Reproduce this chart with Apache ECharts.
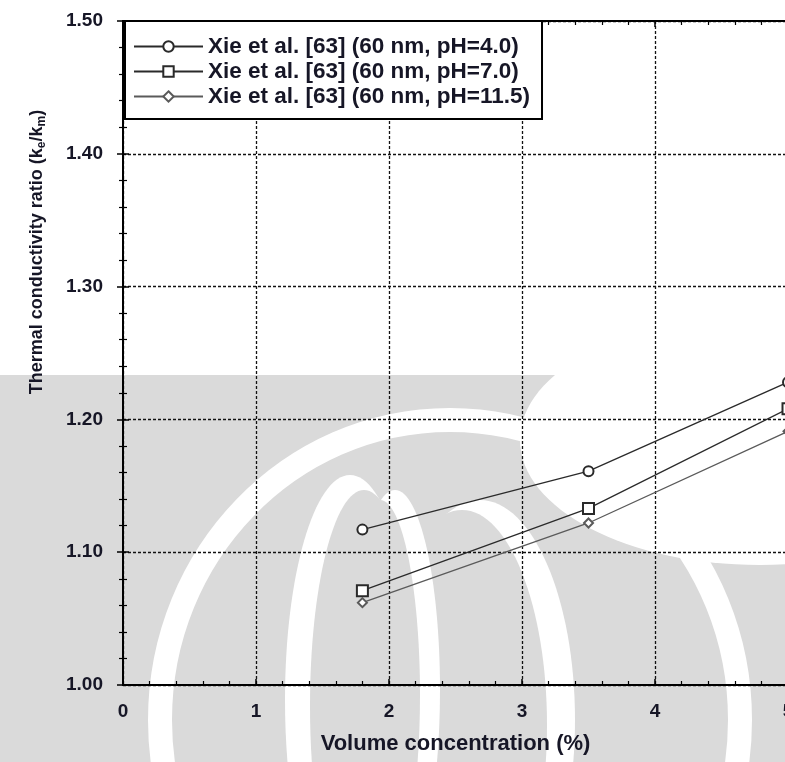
<!DOCTYPE html>
<html>
<head>
<meta charset="utf-8">
<script src="https://cdn.jsdelivr.net/npm/echarts@6/dist/echarts.min.js"></script>
<style>html,body{margin:0;padding:0;background:#fff}#c{width:785px;height:762px}</style>
</head>
<body>
<div id="c"></div>
<script>
// Data
const volumeConc = [1.8, 3.5, 5.0];
const ratioPh40 = [1.117, 1.161, 1.228];
const ratioPh70 = [1.071, 1.133, 1.208];
const ratioPh115 = [1.062, 1.122, 1.191];
const seriesNames = [
  'Xie et al. [63] (60 nm, pH=4.0)',
  'Xie et al. [63] (60 nm, pH=7.0)',
  'Xie et al. [63] (60 nm, pH=11.5)'
];
const xAxisTitle = 'Volume concentration (%)';

const chart = echarts.init(document.getElementById('c'), null, {renderer: 'canvas'});
const FONT = 'Liberation Sans, Arial, sans-serif';
const TXT = '#161626';

function pairs(ys) { return volumeConc.map((x, i) => [x, ys[i]]); }

const seriesDefs = [
  {name: seriesNames[0], data: pairs(ratioPh40), symbol: 'emptyCircle', symbolSize: 10, color: '#2a2a2a'},
  {name: seriesNames[1], data: pairs(ratioPh70), symbol: 'emptyRect', symbolSize: 11, color: '#2a2a2a'},
  {name: seriesNames[2], data: pairs(ratioPh115), symbol: 'emptyDiamond', symbolSize: 9, color: '#5a5a5a'}
];

const gridLine = {show: true, lineStyle: {color: '#111', width: 1.3, type: [3, 2]}};
const frameLine = {show: true, lineStyle: {color: '#000', width: 2}};

// watermark (decorative background logo, rough approximation)
const wm = '#dadada';
function ell(cx, cy, rx, ry, fill) { return {type: 'ellipse', shape: {cx, cy, rx, ry}, style: {fill}}; }
const watermark = [
  {type: 'rect', shape: {x: 0, y: 375, width: 785, height: 387}, style: {fill: wm}},
  ell(760, 440, 240, 125, '#fff'),
  {type: 'ellipse', shape: {cx: 450, cy: 720, rx: 290, ry: 300}, style: {fill: 'none', stroke: '#fff', lineWidth: 24}},
  ell(480, 720, 95, 220, '#fff'), ell(462, 725, 85, 215, wm),
  ell(395, 690, 45, 200, '#fff'), ell(380, 695, 40, 195, wm),
  ell(350, 700, 65, 225, '#fff'), ell(364, 706, 54, 216, wm)
].map(g => Object.assign(g, {z: -100, silent: true}));

const option = {
  backgroundColor: '#fff',
  animation: false,
  textStyle: {fontFamily: FONT},
  graphic: watermark.concat([
    {
      type: 'text', z: 10, x: 37, y: 252, rotation: Math.PI / 2,
      style: {
        text: '{n|Thermal conductivity ratio (k}{s|e}{n|/k}{s|m}{n|)}',
        align: 'center', verticalAlign: 'middle',
        rich: {
          n: {fontFamily: FONT, fontSize: 18, fontWeight: 'bold', fill: TXT},
          s: {fontFamily: FONT, fontSize: 12, fontWeight: 'bold', fill: TXT, verticalAlign: 'bottom', padding: [9, 0, 0, 0]}
        }
      }
    }
  ]),
  grid: {left: 123, top: 21, width: 665, height: 664, containLabel: false, outerBoundsMode: 'none'},
  legend: {
    orient: 'vertical', left: 125, top: 21,
    backgroundColor: '#fff', borderColor: '#000', borderWidth: 2, borderRadius: 0,
    padding: [13, 12, 10, 8],
    itemWidth: 69, itemHeight: 13, itemGap: 0,
    textStyle: {fontFamily: FONT, fontSize: 22.5, lineHeight: 25, fontWeight: 'bold', color: TXT},
    data: seriesNames,
    z: 20
  },
  xAxis: [
    {
      type: 'value', min: 0, max: 5, interval: 1, position: 'bottom',
      axisLine: frameLine,
      axisTick: {show: true, inside: true, length: 6, lineStyle: {color: '#000', width: 1.5}},
      minorTick: {show: true, splitNumber: 5, length: 4, lineStyle: {color: '#000', width: 1.2}},
      splitLine: gridLine,
      axisLabel: {fontFamily: FONT, fontSize: 19, fontWeight: 'bold', color: TXT, margin: 17, showMaxLabel: true},
      name: xAxisTitle, nameLocation: 'middle', nameGap: 48,
      nameTextStyle: {fontFamily: FONT, fontSize: 22, fontWeight: 'bold', color: TXT}
    },
    {
      type: 'value', min: 0, max: 5, interval: 1, position: 'top',
      axisLine: frameLine,
      axisTick: {show: true, inside: true, length: 6, lineStyle: {color: '#000', width: 1.5}},
      minorTick: {show: true, splitNumber: 5, length: 4, lineStyle: {color: '#000', width: 1.2}},
      splitLine: {show: false}, axisLabel: {show: false}
    }
  ],
  yAxis: [
    {
      type: 'value', min: 1.0, max: 1.5, interval: 0.1, position: 'left',
      axisLine: frameLine,
      axisTick: {show: true, inside: true, length: 6, lineStyle: {color: '#000', width: 1.5}},
      minorTick: {show: true, splitNumber: 5, length: 4, lineStyle: {color: '#000', width: 1.2}},
      splitLine: gridLine,
      axisLabel: {fontFamily: FONT, fontSize: 19, fontWeight: 'bold', color: TXT, margin: 20,
        formatter: v => v.toFixed(2)}
    },
    {
      type: 'value', min: 1.0, max: 1.5, interval: 0.1, position: 'right',
      axisLine: frameLine,
      axisTick: {show: true, inside: true, length: 6, lineStyle: {color: '#000', width: 1.5}},
      minorTick: {show: true, splitNumber: 5, length: 4, lineStyle: {color: '#000', width: 1.2}},
      splitLine: {show: false}, axisLabel: {show: false}
    }
  ],
  series: seriesDefs.map(s => ({
    type: 'line', name: s.name, data: s.data,
    symbol: s.symbol, symbolSize: s.symbolSize, showSymbol: true,
    lineStyle: {color: s.color, width: 1.3},
    itemStyle: {color: s.color, borderColor: s.color, borderWidth: 1.2},
    z: 5, clip: false
  }))
};
chart.setOption(option);
</script>
</body>
</html>
